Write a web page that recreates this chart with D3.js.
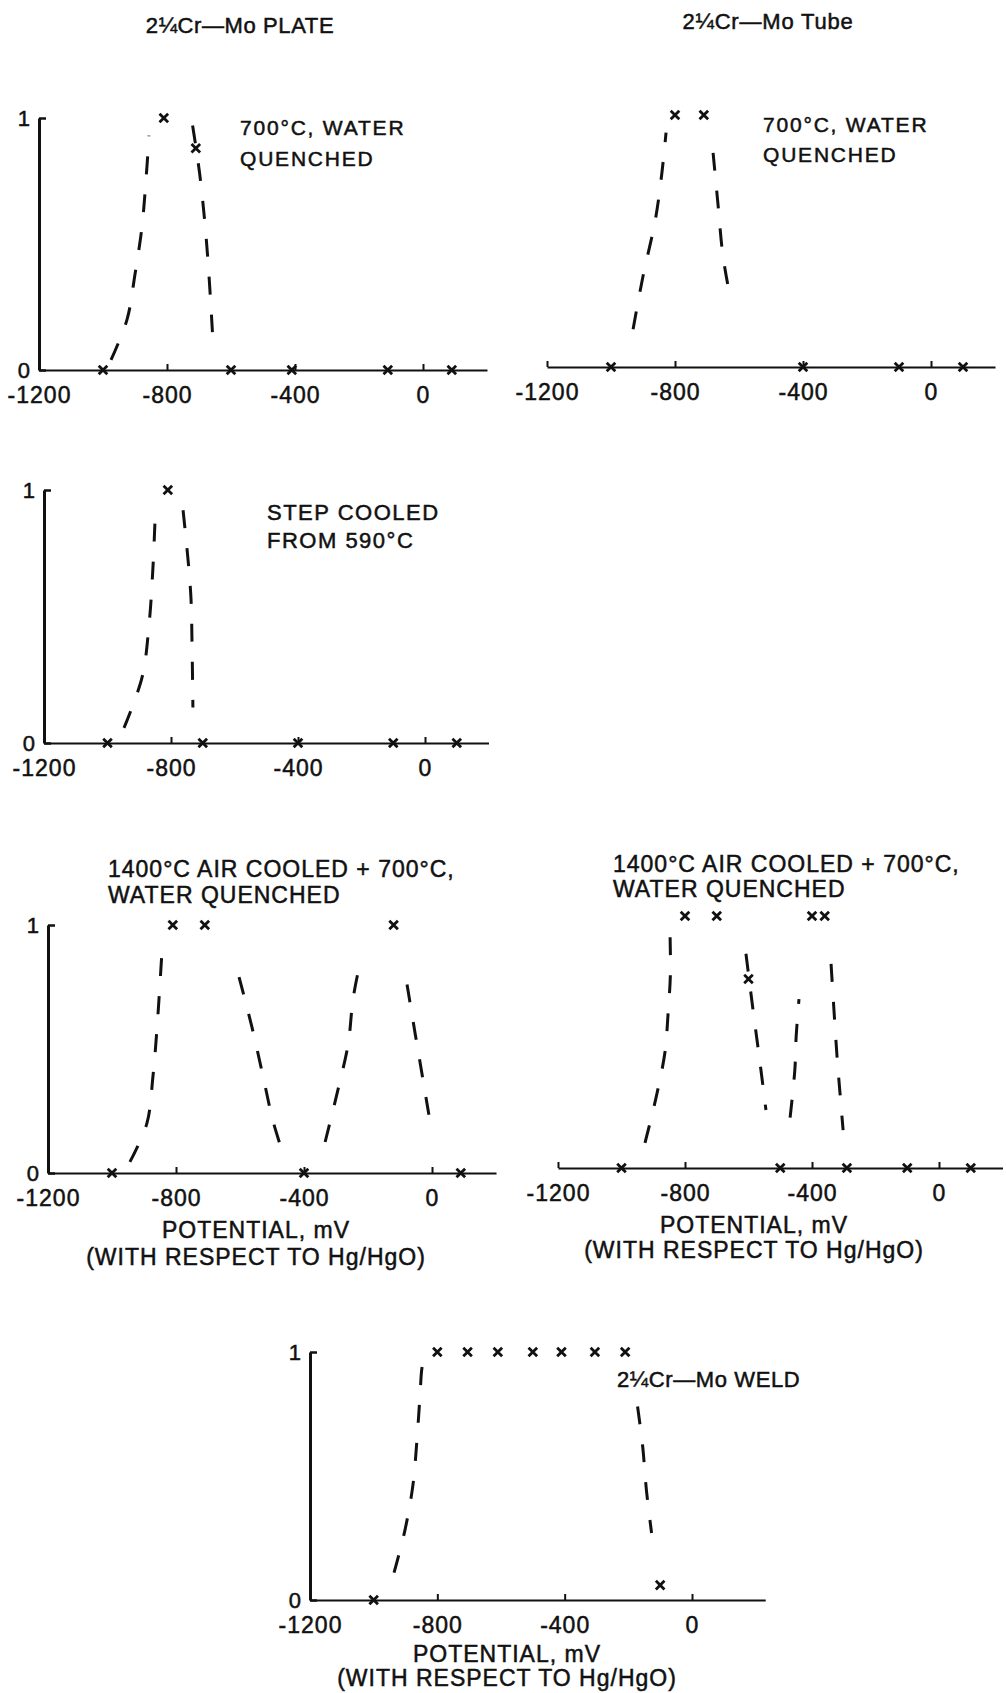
<!DOCTYPE html>
<html>
<head>
<meta charset="utf-8">
<script src="https://cdn.jsdelivr.net/npm/d3@7"></script>
<style>
    body { margin: 0; background: #fff; }
    svg text { font-family: "Liberation Sans", Arial, sans-serif; fill: #111; stroke: #111; stroke-width: 0.5px; }
</style>
</head>
<body>
<div id="chart"></div>
<script>

// x tick labels, shared by every panel (potential, mV)
const tickValues = [-1200, -800, -400, 0];

// 2 1/4Cr-Mo plate, 700C water quenched
const plateWqMarkers = [[-810, 1], [-710, 0.88], [-1000, 0], [-600, 0], [-410, 0], [-110, 0], [90, 0]];
const plateWqCurves = [
    [[-975, 0.04], [-925, 0.2], [-900, 0.38], [-878, 0.57], [-866, 0.75], [-856, 0.93]],
    [[-720, 0.97], [-698, 0.78], [-680, 0.56], [-668, 0.36], [-658, 0.15]]
];

// 2 1/4Cr-Mo tube, 700C water quenched
const tubeWqMarkers = [[-800, 1], [-710, 1], [-1000, 0], [-400, 0], [-100, 0], [100, 0]];
const tubeWqCurves = [
    [[-931, 0.15], [-900, 0.36], [-862, 0.58], [-841, 0.77], [-828, 0.93]],
    [[-681, 0.85], [-666, 0.65], [-650, 0.44], [-625, 0.26]]
];

// plate, step cooled from 590C
const stepMarkers = [[-810, 1], [-1000, 0], [-700, 0], [-400, 0], [-100, 0], [100, 0]];
const stepCurves = [
    [[-948, 0.06], [-891, 0.26], [-869, 0.47], [-857, 0.69], [-850, 0.89]],
    [[-762, 0.92], [-746, 0.72], [-737, 0.57], [-734, 0.41], [-731, 0.14]]
];

// plate, 1400C air cooled + 700C water quenched
const plateAcMarkers = [[-810, 1], [-710, 1], [-120, 1], [-1000, 0], [-400, 0], [90, 0]];
const plateAcCurves = [
    [[-944, 0.045], [-891, 0.2], [-872, 0.39], [-859, 0.59], [-844, 0.89]],
    [[-603, 0.79], [-563, 0.59], [-528, 0.39], [-497, 0.21], [-466, 0.08]],
    [[-334, 0.125], [-294, 0.335], [-262, 0.52], [-247, 0.7], [-231, 0.81]],
    [[-78, 0.76], [-53, 0.565], [-28, 0.375], [0, 0.16]]
];

// tube, 1400C air cooled + 700C water quenched
const tubeAcMarkers = [[-800, 1], [-700, 1], [-400, 1], [-360, 1], [-600, 0.75],
    [-1000, 0], [-500, 0], [-290, 0], [-100, 0], [100, 0]];
const tubeAcCurves = [
    [[-926, 0.1], [-891, 0.28], [-863, 0.46], [-854, 0.6], [-846, 0.77], [-847, 0.92]],
    [[-608, 0.85], [-586, 0.63], [-564, 0.42], [-545, 0.23]],
    [[-469, 0.2], [-454, 0.39], [-450, 0.52], [-441, 0.67]],
    [[-340, 0.81], [-331, 0.63], [-321, 0.44], [-312, 0.3], [-302, 0.15]]
];

// weld
const weldMarkers = [[-800, 1], [-705, 1], [-610, 1], [-500, 1], [-410, 1], [-305, 1], [-210, 1],
    [-100, 0.06], [-1000, 0]];
const weldCurves = [
    [[-936, 0.11], [-902, 0.28], [-877, 0.46], [-864, 0.645], [-855, 0.81], [-845, 0.955], [-833, 0.98]],
    [[-171, 0.78], [-155, 0.62], [-143, 0.44], [-127, 0.27]]
];

const axisTitle = ["POTENTIAL, mV", "(WITH RESPECT TO Hg/HgO)"];

// layout of each small panel (pixel positions of -1200 mV, 0 mV, fraction 0 and 1)
const panels = [
    {markers: plateWqMarkers, curves: plateWqCurves, x0: 39, xZero: 423, y0: 370, y1: 118, yAxis: true,
        texts: [
            {lines: ["2¼Cr—Mo PLATE"], x: 240, y: 33, anchor: "middle", size: 22, ls: 0.6},
            {lines: ["700°C, WATER", "QUENCHED"], x: 240, y: 135, size: 21, ls: 1.8, lh: 31}
        ]},
    {markers: tubeWqMarkers, curves: tubeWqCurves, x0: 547, xZero: 931, y0: 367, y1: 115, yAxis: false,
        texts: [
            {lines: ["2¼Cr—Mo Tube"], x: 768, y: 29, anchor: "middle", size: 22, ls: 0.8},
            {lines: ["700°C, WATER", "QUENCHED"], x: 763, y: 132, size: 21, ls: 1.8, lh: 30}
        ]},
    {markers: stepMarkers, curves: stepCurves, x0: 44, xZero: 425, y0: 743, y1: 490, yAxis: true,
        texts: [
            {lines: ["STEP COOLED", "FROM 590°C"], x: 267, y: 520, size: 22, ls: 1.5, lh: 28}
        ]},
    {markers: plateAcMarkers, curves: plateAcCurves, x0: 48, xZero: 432, y0: 1173, y1: 925, yAxis: true,
        texts: [
            {lines: ["1400°C AIR COOLED + 700°C,", "WATER QUENCHED"], x: 108, y: 877, size: 23, ls: 1, lh: 26},
            {lines: axisTitle, x: 256, y: 1238, anchor: "middle", size: 23, ls: 1, lh: 27}
        ]},
    {markers: tubeAcMarkers, curves: tubeAcCurves, x0: 558, xZero: 939, y0: 1168, y1: 916, yAxis: false,
        texts: [
            {lines: ["1400°C AIR COOLED + 700°C,", "WATER QUENCHED"], x: 613, y: 872, size: 23, ls: 1, lh: 25},
            {lines: axisTitle, x: 754, y: 1233, anchor: "middle", size: 23, ls: 1, lh: 25}
        ]},
    {markers: weldMarkers, curves: weldCurves, x0: 310, xZero: 692, y0: 1600, y1: 1352, yAxis: true, xMax: 230,
        texts: [
            {lines: ["2¼Cr—Mo WELD"], x: 617, y: 1387, size: 22, ls: 0.6},
            {lines: axisTitle, x: 507, y: 1662, anchor: "middle", size: 23, ls: 1, lh: 24}
        ]}
];


class PotentialPanel {

    constructor(svg, config) {
        this.svg = svg;
        this.config = config;

        this.initVis();
    }

    /*
     * scales and axes
     */
    initVis() {
        let vis = this;
        let c = vis.config;
        let xMax = c.xMax || 200;

        vis.g = vis.svg.append("g");

        vis.x = d3.scaleLinear()
            .domain([-1200, xMax])
            .range([c.x0, c.x0 + (c.xZero - c.x0) * (1200 + xMax) / 1200]);

        vis.y = d3.scaleLinear()
            .domain([0, 1])
            .range([c.y0, c.y1]);

        vis.xAxis = d3.axisBottom(vis.x)
            .tickValues(tickValues)
            .tickSize(-6)
            .tickSizeOuter(0)
            .tickPadding(17)
            .tickFormat(d => String(d));

        let xg = vis.g.append("g")
            .attr("class", "x-axis axis")
            .attr("transform", "translate(0," + c.y0 + ")")
            .call(vis.xAxis)
            .attr("font-size", 23)
            .attr("letter-spacing", 1)
            .attr("font-family", null);
        xg.select(".domain").attr("stroke", "#111").attr("stroke-width", 2);
        xg.selectAll(".tick line").attr("stroke", "#111").attr("stroke-width", 2);

        if (c.yAxis) {
            vis.yAxis = d3.axisLeft(vis.y)
                .tickValues([0, 1])
                .tickSize(-7)
                .tickSizeOuter(0)
                .tickPadding(9)
                .tickFormat(d3.format("d"));

            let yg = vis.g.append("g")
                .attr("class", "y-axis axis")
                .attr("transform", "translate(" + c.x0 + ",0)")
                .call(vis.yAxis)
                .attr("font-size", 22)
                .attr("font-family", null);
            yg.select(".domain").attr("stroke", "#111").attr("stroke-width", 3);
            yg.selectAll(".tick line").attr("stroke", "#111").attr("stroke-width", 2.5);
        }

        vis.updateVis();
    }

    /*
     * dashed curves, x markers, labels
     */
    updateVis() {
        let vis = this;
        let c = vis.config;

        let line = d3.line()
            .x(d => vis.x(d[0]))
            .y(d => vis.y(d[1]))
            .curve(d3.curveCatmullRom.alpha(0.5));

        vis.g.selectAll(".curve")
            .data(c.curves)
            .join("path")
            .attr("class", "curve")
            .attr("d", line)
            .attr("fill", "none")
            .attr("stroke", "#111")
            .attr("stroke-width", 3)
            .attr("stroke-dasharray", "18,20");

        let symbol = d3.symbol().type(d3.symbolTimes).size(50);

        vis.g.selectAll(".marker")
            .data(c.markers)
            .join("path")
            .attr("class", "marker")
            .attr("d", symbol)
            .attr("transform", d => "translate(" + vis.x(d[0]) + "," + vis.y(d[1]) + ")")
            .attr("fill", "none")
            .attr("stroke", "#111")
            .attr("stroke-width", 2.8);

        c.texts.forEach(t => {
            let text = vis.g.append("text")
                .attr("x", t.x)
                .attr("y", t.y)
                .attr("text-anchor", t.anchor || "start")
                .attr("font-size", t.size)
                .attr("letter-spacing", t.ls || 0);
            t.lines.forEach((s, i) => {
                text.append("tspan")
                    .attr("x", t.x)
                    .attr("y", t.y + i * (t.lh || 0))
                    .text(s);
            });
        });
    }
}

let svg = d3.select("#chart").append("svg")
    .attr("width", 1006)
    .attr("height", 1693)
    .style("display", "block");

svg.append("rect").attr("width", 1006).attr("height", 1693).attr("fill", "#fff");

panels.forEach(p => new PotentialPanel(svg, p));

</script>
</body>
</html>
